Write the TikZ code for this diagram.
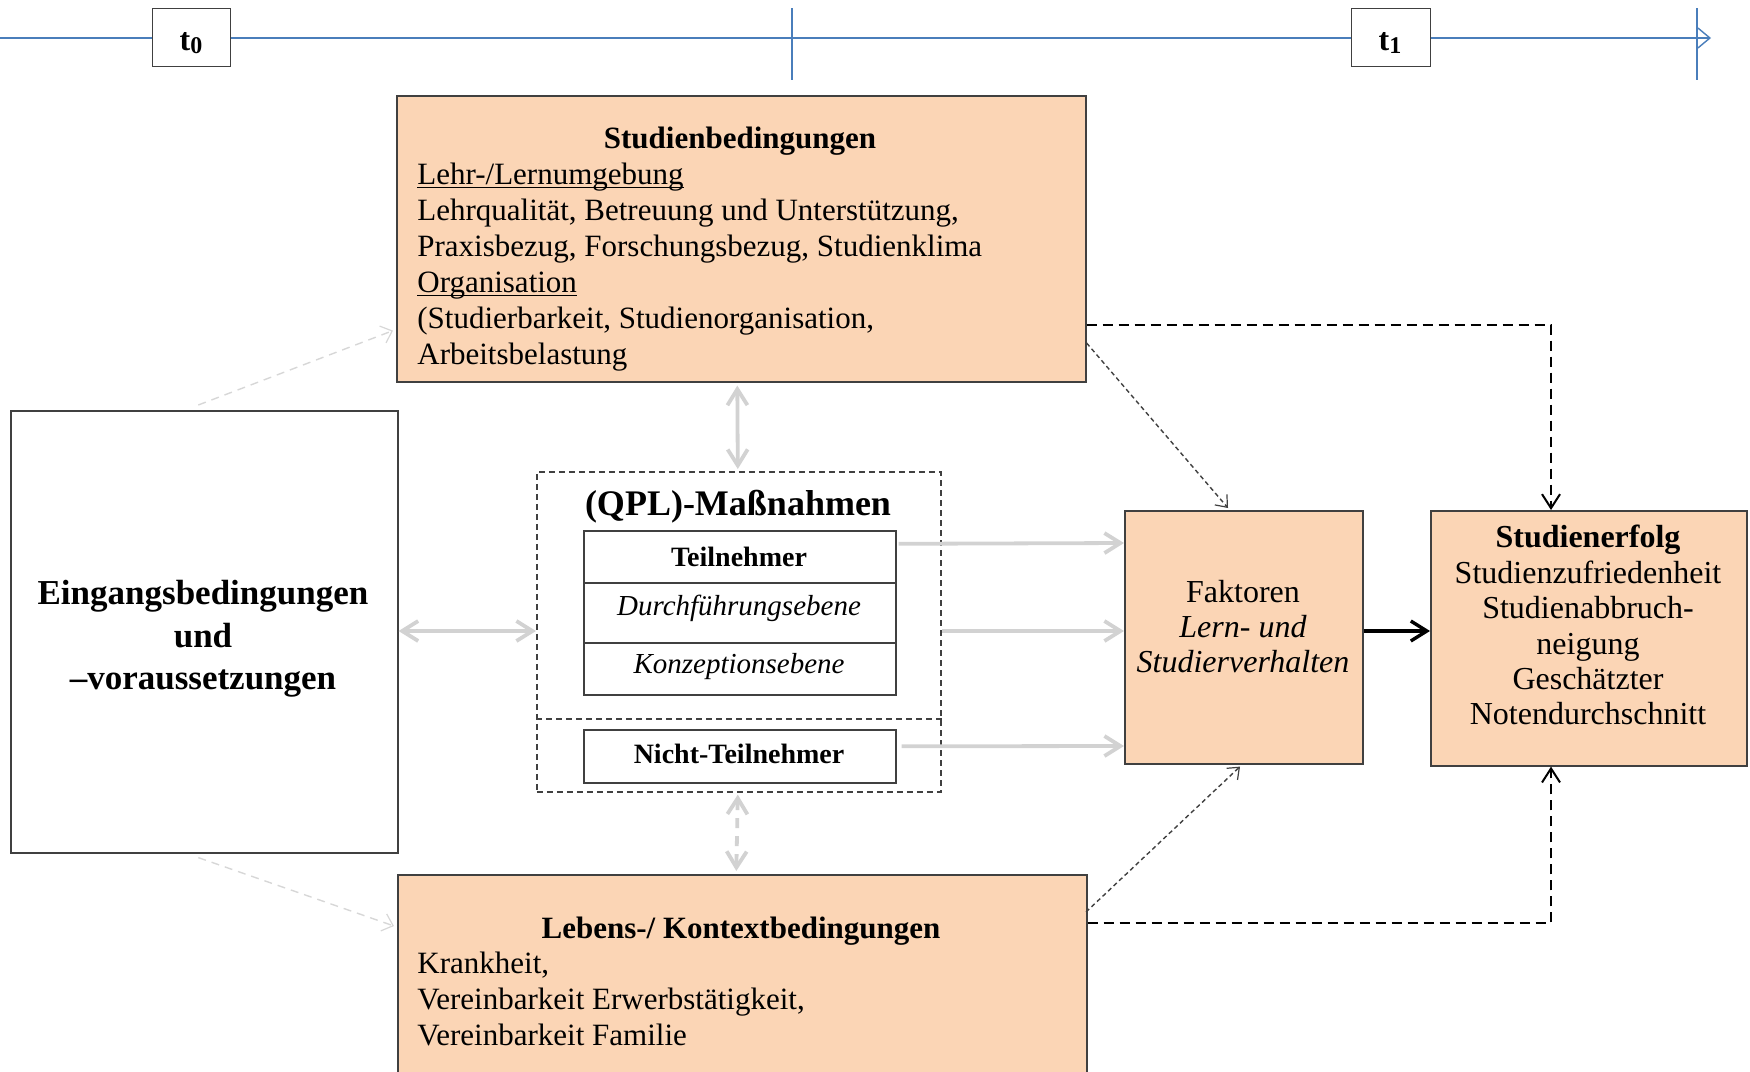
\documentclass[tikz,border=0pt]{standalone}
\usepackage{fontspec}
\setmainfont{Liberation Serif}
\usetikzlibrary{arrows.meta,calc}

\definecolor{peach}{RGB}{251,213,181}
\definecolor{frame}{RGB}{64,64,64}
\definecolor{lightarrow}{RGB}{210,210,210}
\definecolor{faintarrow}{RGB}{215,215,215}
\definecolor{timeblue}{RGB}{74,126,187}

\newcommand{\fs}[2]{\fontsize{#1}{#2}\selectfont}
\newcommand{\ulword}[1]{\underline{\smash{#1}}\vphantom{Ag}}

\tikzset{
  box/.style={draw=frame, line width=0.8pt, anchor=north west, inner sep=0pt},
  peachbox/.style={box, fill=peach},
  plainbox/.style={box, fill=white},
  timebox/.style={draw=frame, line width=0.7pt, fill=white, anchor=north west, inner sep=0pt},
  label/.style={inner sep=0pt, anchor=base},
  grayarrow/.style={draw=lightarrow, line width=1.9pt,
    arrows={Straight Barb[length=8pt,width=10pt]-Straight Barb[length=8pt,width=10pt]}},
  grayto/.style={draw=lightarrow, line width=1.9pt,
    -{Straight Barb[length=8pt,width=10pt]}},
  heavyarrow/.style={draw=black, line width=1.7pt, -{Straight Barb[length=8pt,width=10pt]}},
  dasharrow/.style={draw=black, line width=1.3pt, dash pattern=on 5pt off 3pt,
    -{Straight Barb[length=7pt,width=9pt,line width=1pt]}},
  finearrow/.style={draw=black!75, line width=0.7pt, dash pattern=on 2.2pt off 1.6pt,
    -{Straight Barb[length=5pt,width=8pt,line width=0.6pt]}},
  faintline/.style={draw=faintarrow, line width=0.7pt, dash pattern=on 4pt off 3pt,
    -{Straight Barb[length=5pt,width=9pt,line width=0.6pt]}},
}

\begin{document}
\begin{tikzpicture}[x=0.5pt, y=-0.5pt]
\clip (0,0) rectangle (1750,1071);
\useasboundingbox (0,0) rectangle (1750,1071);

% time axis
\coordinate (axisstart) at (0,38);
\coordinate (axisend) at (1711,38);
\draw[timeblue, line width=1pt, -{Straight Barb[length=6pt,width=10pt,line width=0.7pt]}] (axisstart) -- (axisend);
\coordinate (midtop) at (792,8);
\coordinate (midbot) at (792,80);
\coordinate (endtop) at (1697,8);
\coordinate (endbot) at (1697,80);
\draw[timeblue, line width=1pt] (midtop) -- (midbot);
\draw[timeblue, line width=1pt] (endtop) -- (endbot);
\node[timebox, minimum width=39pt, minimum height=29pt] (tzero) at (152,8) {};
\node[timebox, minimum width=39.5pt, minimum height=29pt] (tone) at (1351,8) {};
\node[label, font=\fs{16pt}{18pt}\bfseries] (tzerolabel) at (191,50) {t\raisebox{-0.25ex}{\fs{12pt}{14pt}0}};
\node[label, font=\fs{16pt}{18pt}\bfseries] (tonelabel) at (1390,50) {t\raisebox{-0.25ex}{\fs{12pt}{14pt}1}};

% main boxes
\node[peachbox, minimum width=344.5pt, minimum height=143pt] (sb) at (396,95) {};
\node[plainbox, minimum width=193.5pt, minimum height=221pt] (ein) at (10,410) {};
\node[peachbox, minimum width=119pt, minimum height=126.5pt] (fak) at (1124,510) {};
\node[peachbox, minimum width=158pt, minimum height=127.5pt] (erf) at (1430,510) {};
\node[peachbox, minimum width=344.5pt, minimum height=110pt] (leb) at (397,874) {};

% measures frame
\node[box, dashed, dash pattern=on 3pt off 2pt, fill=none, minimum width=202pt, minimum height=160pt] (qpl) at (536,471) {};
\coordinate (divl) at ($(qpl.north west)+(0,248)$);
\coordinate (divr) at ($(qpl.north east)+(0,248)$);
\draw[frame, line width=0.8pt, dash pattern=on 3pt off 2pt] (divl) -- (divr);
\node[plainbox, minimum width=156pt, minimum height=26pt] (teil) at (583,530) {};
\node[plainbox, minimum width=156pt, minimum height=30pt] (durch) at (583,582) {};
\node[plainbox, minimum width=156pt, minimum height=26pt] (konz) at (583,642) {};
\node[plainbox, minimum width=156pt, minimum height=26.5pt] (nicht) at (583,729) {};

% texts
\node[label, font=\fs{15.5pt}{18pt}\bfseries] (sbtitle) at (740,148) {Studienbedingungen};
\node[inner sep=0pt, anchor=north west, align=left, font=\fs{15.5pt}{18pt}] (sbtext) at (417,164)
  {\ulword{Lehr-/Lernumgebung}\\
   Lehrqualität, Betreuung und Unterstützung,\\
   Praxisbezug, Forschungsbezug, Studienklima\\
   \ulword{Organisation}\\
   (Studierbarkeit, Studienorganisation,\\
   Arbeitsbelastung};

\node[inner sep=0pt, anchor=north, align=center, font=\fs{17.5pt}{21.3pt}\bfseries] (eintext) at (203,580)
  {Eingangsbedingungen\\und\\–voraussetzungen};

\node[label, font=\fs{18pt}{21pt}\bfseries] (qpltitle) at (738,515) {(QPL)-Maßnahmen};
\node[label, font=\fs{14pt}{16pt}\bfseries] (teiltext) at (739,566) {Teilnehmer};
\node[label, font=\fs{14.5pt}{16pt}\itshape] (durchtext) at (739,615) {Durchführungsebene};
\node[label, font=\fs{14.5pt}{16pt}\itshape] (konztext) at (739,673) {Konzeptionsebene};
\node[label, font=\fs{14pt}{16pt}\bfseries] (nichttext) at (739,763) {Nicht-Teilnehmer};

\node[inner sep=0pt, anchor=north, align=center, font=\fs{16pt}{17.5pt}] (faktext) at (1243,580)
  {Faktoren\\\textit{Lern- und}\\\textit{Studierverhalten}};

\node[inner sep=0pt, anchor=north, align=center, font=\fs{16pt}{17.7pt}] (erftext) at (1588,525)
  {\textbf{Studienerfolg}\\Studienzufriedenheit\\Studienabbruch-\\neigung\\Geschätzter\\Notendurchschnitt};

\node[label, font=\fs{15.5pt}{18pt}\bfseries] (lebtitle) at (741,938) {Lebens-/ Kontextbedingungen};
\node[inner sep=0pt, anchor=north west, align=left, font=\fs{15.5pt}{18pt}] (lebtext) at (417,952)
  {Krankheit,\\Vereinbarkeit Erwerbstätigkeit,\\Vereinbarkeit Familie};

% grey links around the measures
\draw[grayarrow] (ein.east |- 0,631) -- (qpl.west |- 0,631);
\draw[grayarrow] ($(sb.south)+(-4,3)$) -- ($(qpl.north)+(-1,-2)$);
\draw[grayarrow, dash pattern=on 5pt off 4pt] ($(qpl.south)+(-1,2)$) -- ($(leb.north)+(-6,-3)$);
\draw[grayto] ($(teil.east)+(2,-13)$) -- (fak.west |- 0,543);
\draw[grayto] (qpl.east |- 0,631) -- (fak.west |- 0,631);
\draw[grayto] ($(nicht.east)+(5,-10)$) -- (fak.west |- 0,746);

% main path to success
\draw[heavyarrow] (fak.east |- 0,631) -- (erf.west |- 0,631);

% direct effects of study and life conditions
\coordinate (topbend) at (1551,325);
\coordinate (botbend) at (1551,923);
\draw[dasharrow] (sb.east |- topbend) -- (topbend) -- (erf.north -| topbend);
\draw[dasharrow] (leb.east |- botbend) -- (botbend) -- (erf.south -| topbend);

% effects on study behaviour
\draw[finearrow] ($(sb.north east)+(0,248)$) -- ($(fak.north west)+(104,-2)$);
\draw[finearrow] ($(leb.north west)+(689,38)$) -- ($(fak.south west)+(116,2)$);

% entry conditions to the condition blocks
\draw[faintline] ($(ein.north)+(-6,-5)$) -- ($(sb.south west)+(-3,-52)$);
\draw[faintline] ($(ein.south)+(-6,4)$) -- ($(leb.north west)+(-3,52)$);
\end{tikzpicture}
\end{document}
